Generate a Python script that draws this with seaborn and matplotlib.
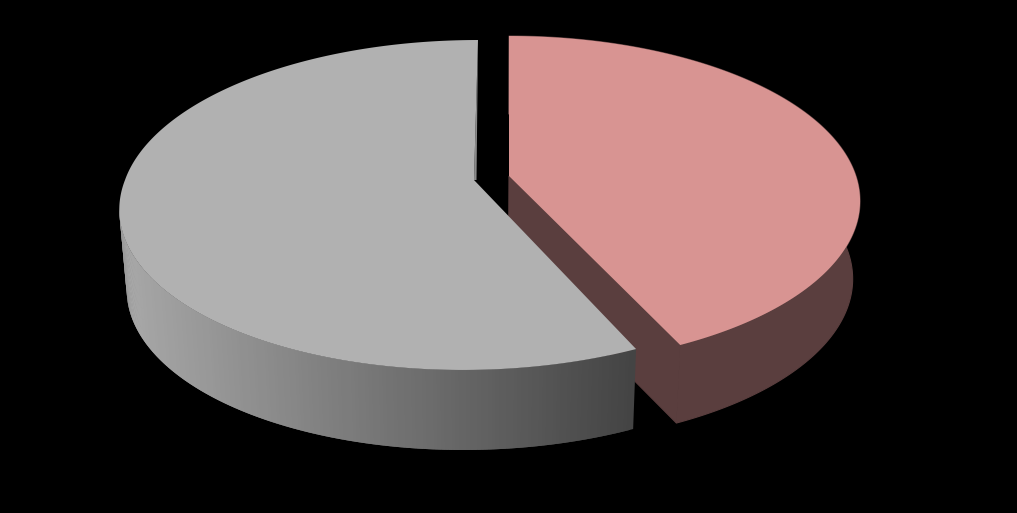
import numpy as np
import matplotlib
matplotlib.use("Agg")
import matplotlib.pyplot as plt
from matplotlib.collections import PolyCollection
import seaborn as sns

# ── Data ─────────────────────────────────────────────────────
slice_names  = ["Pink", "Grey"]
slice_shares = [43.0, 57.0]

# ── Look of the 3D pie (pixels, y down) ──────────────────────
top_colors  = ["#D89492", "#B1B1B1"]
apex        = [(509, 176), (474, 180)]
shear_back  = [0.0, 0.0286]
shear_front = [0.0, 0.06]
radius_x    = [347, 349]
radius_y    = 161.2
persp       = 0.1515
wall_drop   = [78, 80]
wall_scale  = 0.98
view_x      = 490


def rim(theta, i):
    # theta is clockwise from the back of the pie, in radians
    x, y = np.sin(theta), np.cos(theta)
    w = 1 + persp * y
    up = radius_y * y / w
    lean = np.where(up > 0, shear_back[i], shear_front[i])
    sx = apex[i][0] + radius_x[i] * x / w + lean * up
    sy = apex[i][1] - up
    return np.column_stack([sx, sy])


def drop(pts, i):
    # same points on the bottom disc
    return np.column_stack([view_x + wall_scale * (pts[:, 0] - view_x), pts[:, 1] + wall_drop[i]])


sns.set_theme(style="dark", rc={"figure.facecolor": "black", "axes.facecolor": "black"})
fig = plt.figure(figsize=(10.17, 5.13), dpi=100)
ax = fig.add_axes([0, 0, 1, 1])
ax.set_xlim(0, 1017)
ax.set_ylim(513, 0)
ax.axis("off")

edges = np.cumsum([0] + slice_shares) / 100 * 2 * np.pi
th_pink = np.linspace(edges[0], edges[1], 200)
th_grey = np.linspace(edges[1], edges[2], 400)

# ── Pink slice ───────────────────────────────────────────────
pink_wall = "#5A3E3E"
pts = rim(th_pink, 0)
low = drop(pts, 0)
ax.fill(*np.vstack([pts, low[::-1]]).T, color=pink_wall, lw=0.8, zorder=1)
apex_p = np.array([apex[0]], dtype=float)
cut = np.vstack([apex_p, pts[-1:], low[-1:], drop(apex_p, 0)])
ax.fill(*cut.T, color=pink_wall, lw=0.8, zorder=1)
ax.fill(*np.vstack([apex_p, pts]).T, color=top_colors[0], lw=0, zorder=2)

# ── Grey slice ───────────────────────────────────────────────
pts = rim(th_grey, 1)
low = drop(pts, 1)
shades = sns.blend_palette(["#A8A8A8", "#444444"], 150)
left_end = int(np.argmin(pts[:, 0]))
quads, face = [], []
for j in range(left_end):
    # each quad runs under the next one, so no seams show
    quads.append([pts[j], pts[j + 2], low[j + 2], low[j]])
    pos = (pts[j, 0] - 120) / (637 - 120)
    face.append(shades[int(np.clip(pos, 0, 0.999) * len(shades))])
ax.add_collection(PolyCollection(quads, facecolors=face, linewidths=0, zorder=3))

apex_g = np.array([apex[1]], dtype=float)
sliver = np.vstack([apex_g, pts[-1:], apex_g + [2.5, 0]])
ax.fill(*sliver.T, color="#8A8A8A", lw=0, zorder=3)
ax.fill(*np.vstack([apex_g, pts]).T, color=top_colors[1], lw=0, zorder=4)

plt.savefig("out.png", dpi=100, facecolor="black")
